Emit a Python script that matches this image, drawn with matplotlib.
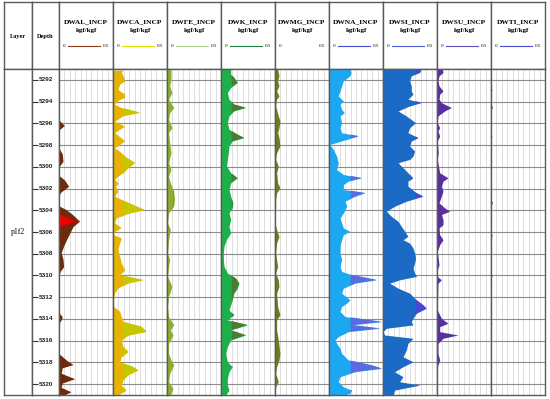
import numpy as np
import matplotlib
matplotlib.use("Agg")
import matplotlib.pyplot as plt

# curve readings: (depth, value in kgf/kgf)
DWAL = [(5291.0, 0), (5295.7, 0), (5296.2, 0.05), (5296.6, 0), (5298.3, 0), (5298.8, 0.03),
        (5299.5, 0.037), (5300.0, 0), (5300.8, 0), (5301.2, 0.05), (5301.8, 0.09), (5302.3, 0.02),
        (5302.6, 0), (5303.6, 0), (5303.9, 0.06), (5304.3, 0.115), (5305.0, 0.19), (5305.5, 0.13),
        (5306.1, 0.10), (5306.7, 0.07), (5307.3, 0.043), (5307.9, 0.02), (5308.5, 0.037),
        (5309.2, 0.043), (5309.6, 0.012), (5310.0, 0), (5313.4, 0), (5313.8, 0.03), (5314.1, 0.02),
        (5314.4, 0), (5317.2, 0), (5317.8, 0.07), (5318.2, 0.13), (5318.5, 0.03), (5319.0, 0.02),
        (5319.5, 0.145), (5319.9, 0.03), (5320.3, 0.02), (5320.7, 0.11), (5321.0, 0.05)]

DWCA = [(5291.1, 0.093), (5291.3, 0.077), (5291.6, 0.093), (5292.1, 0.108), (5292.4, 0.062),
        (5292.9, 0.046), (5293.3, 0.108), (5293.6, 0.108), (5293.9, 0.046), (5294.25, 0.015),
        (5294.55, 0.077), (5295.0, 0.247), (5295.3, 0.093), (5295.8, 0.015), (5296.25, 0.108),
        (5296.55, 0.062), (5296.85, 0.015), (5297.6, 0.108), (5297.95, 0.062), (5298.25, 0.015),
        (5298.7, 0.077), (5299.15, 0.123), (5299.6, 0.201), (5300.1, 0.139), (5300.55, 0.093),
        (5300.85, 0.046), (5301.15, 0.015), (5301.5, 0.046), (5301.8, 0.025), (5302.25, 0.046),
        (5302.7, 0.015), (5303.0, 0.077), (5303.5, 0.185), (5303.95, 0.293), (5304.25, 0.154),
        (5304.7, 0.031), (5305.15, 0.015), (5305.6, 0.077), (5305.95, 0.015), (5306.25, 0.006),
        (5306.55, 0.077), (5307.0, 0.062), (5307.6, 0.046), (5308.25, 0.062), (5308.85, 0.077),
        (5309.5, 0.108), (5309.95, 0.062), (5310.4, 0.278), (5310.7, 0.139), (5311.15, 0.046),
        (5311.6, 0.015), (5312.25, 0.006), (5312.85, 0.006), (5313.3, 0.062), (5313.8, 0.077),
        (5314.25, 0.093), (5314.7, 0.262), (5315.15, 0.309), (5315.5, 0.139), (5315.95, 0.077),
        (5316.55, 0.093), (5317.0, 0.139), (5317.5, 0.077), (5317.95, 0.062), (5318.4, 0.185),
        (5318.7, 0.231), (5319.15, 0.139), (5319.6, 0.093), (5320.1, 0.077), (5320.55, 0.123),
        (5321.0, 0.046)]

DWFE = [(5291.0, 0.037), (5291.94, 0.037), (5292.55, 0.025), (5293.17, 0.046), (5293.78, 0.015),
        (5294.55, 0.062), (5295.02, 0.025), (5295.63, 0.015), (5296.4, 0.046), (5296.86, 0.015),
        (5297.78, 0.025), (5298.71, 0.037), (5299.63, 0.015), (5300.25, 0.037), (5300.86, 0.015),
        (5301.48, 0.031), (5302.25, 0.062), (5303.02, 0.068), (5303.63, 0.062), (5304.25, 0.015),
        (5305.17, 0.006), (5305.78, 0.031), (5306.71, 0.015), (5307.94, 0.006), (5308.55, 0.025),
        (5309.17, 0.015), (5310.09, 0.006), (5311.02, 0.046), (5311.94, 0.015), (5312.86, 0.006),
        (5313.78, 0.015), (5314.55, 0.062), (5315.02, 0.031), (5315.48, 0.056), (5316.25, 0.015),
        (5317.17, 0.015), (5317.78, 0.037), (5318.25, 0.062), (5319.02, 0.025), (5319.78, 0.015),
        (5320.4, 0.056), (5321.0, 0.031)]

DWK = [(5291.0, 0.09), (5291.48, 0.09), (5291.78, 0.12), (5292.25, 0.151), (5292.71, 0.09),
       (5293.17, 0.059), (5293.78, 0.074), (5294.25, 0.12), (5294.55, 0.228), (5294.86, 0.12),
       (5295.32, 0.074), (5295.94, 0.059), (5296.55, 0.074), (5297.02, 0.151), (5297.32, 0.213),
       (5297.63, 0.105), (5298.09, 0.074), (5298.71, 0.068), (5299.32, 0.059), (5299.94, 0.052),
       (5300.55, 0.09), (5301.02, 0.151), (5301.48, 0.09), (5302.09, 0.074), (5302.71, 0.09),
       (5303.32, 0.111), (5303.78, 0.105), (5304.25, 0.074), (5304.86, 0.09), (5305.48, 0.074),
       (5306.09, 0.09), (5306.71, 0.049), (5307.32, 0.028), (5307.94, 0.022), (5308.55, 0.022),
       (5309.17, 0.028), (5309.78, 0.059), (5310.25, 0.136), (5310.71, 0.167), (5311.17, 0.151),
       (5311.63, 0.12), (5312.25, 0.105), (5312.71, 0.09), (5313.17, 0.074), (5313.63, 0.12),
       (5314.09, 0.059), (5314.55, 0.244), (5315.02, 0.09), (5315.48, 0.228), (5315.94, 0.09),
       (5316.55, 0.059), (5317.17, 0.043), (5317.94, 0.059), (5318.4, 0.105), (5318.86, 0.074),
       (5319.48, 0.059), (5320.09, 0.059), (5320.55, 0.074), (5321.0, 0.043)]

DWMG = [(5291.0, 0.025), (5291.32, 0.031), (5291.63, 0.037), (5292.09, 0.025), (5292.55, 0.037),
        (5293.02, 0.015), (5293.48, 0.037), (5293.78, 0.015), (5294.4, 0.006), (5295.32, 0.031),
        (5295.78, 0.046), (5296.4, 0.037), (5296.86, 0.025), (5297.32, 0.037), (5298.09, 0.046),
        (5298.71, 0.015), (5299.32, 0.006), (5299.94, 0.031), (5300.55, 0.015), (5301.48, 0.025),
        (5301.94, 0.046), (5302.4, 0.015), (5303.02, 0.006), (5303.63, 0.006), (5305.17, 0.0),
        (5305.78, 0.015), (5306.4, 0.037), (5307.02, 0.015), (5307.94, 0.006), (5308.55, 0.015),
        (5309.17, 0.025), (5309.78, 0.006), (5310.4, 0.031), (5311.02, 0.037), (5311.63, 0.015),
        (5312.86, 0.025), (5313.63, 0.046), (5314.09, 0.015), (5315.02, 0.015), (5315.94, 0.031),
        (5317.17, 0.046), (5317.78, 0.037), (5318.4, 0.015), (5319.02, 0.006), (5319.78, 0.031),
        (5320.25, 0.006), (5321.0, 0.0)]

DWNA = [(5291.0, 0.194), (5291.32, 0.204), (5291.63, 0.194), (5292.09, 0.133), (5292.55, 0.117),
        (5293.02, 0.102), (5293.48, 0.086), (5293.94, 0.133), (5294.25, 0.102), (5294.71, 0.117),
        (5295.02, 0.142), (5295.32, 0.102), (5295.94, 0.117), (5296.4, 0.102), (5296.86, 0.117),
        (5297.17, 0.272), (5297.48, 0.164), (5297.94, 0.009), (5298.4, 0.04), (5299.02, 0.071),
        (5299.63, 0.086), (5300.25, 0.071), (5300.71, 0.133), (5301.02, 0.302), (5301.32, 0.179),
        (5301.63, 0.133), (5302.09, 0.133), (5302.4, 0.333), (5302.71, 0.241), (5303.17, 0.148),
        (5303.63, 0.164), (5304.25, 0.133), (5304.71, 0.102), (5305.17, 0.117), (5305.63, 0.133),
        (5305.94, 0.194), (5306.25, 0.133), (5306.71, 0.117), (5307.32, 0.102), (5307.94, 0.102),
        (5308.55, 0.117), (5309.17, 0.102), (5309.63, 0.117), (5309.94, 0.21), (5310.4, 0.441),
        (5310.71, 0.241), (5311.17, 0.133), (5311.63, 0.117), (5312.25, 0.194), (5312.55, 0.164),
        (5312.86, 0.117), (5313.32, 0.102), (5313.78, 0.148), (5314.25, 0.488), (5314.55, 0.21),
        (5314.86, 0.472), (5315.17, 0.179), (5315.63, 0.086), (5315.94, 0.056), (5316.25, 0.071),
        (5316.71, 0.102), (5317.17, 0.117), (5317.78, 0.179), (5318.25, 0.395), (5318.55, 0.488),
        (5318.86, 0.241), (5319.32, 0.102), (5319.78, 0.086), (5320.25, 0.133), (5320.55, 0.21),
        (5320.86, 0.194), (5321.0, 0.133)]

DWSI = [(5291.0, 0.355), (5291.32, 0.34), (5291.63, 0.262), (5292.09, 0.247), (5292.55, 0.262),
        (5293.02, 0.262), (5293.32, 0.278), (5293.78, 0.231), (5294.09, 0.355), (5294.4, 0.247),
        (5294.86, 0.139), (5295.32, 0.216), (5295.94, 0.302), (5296.4, 0.247), (5296.86, 0.231),
        (5297.32, 0.324), (5297.63, 0.262), (5298.09, 0.247), (5298.55, 0.293), (5299.02, 0.278),
        (5299.32, 0.247), (5299.63, 0.139), (5300.09, 0.185), (5300.55, 0.231), (5301.02, 0.278),
        (5301.32, 0.231), (5301.78, 0.231), (5302.4, 0.309), (5302.71, 0.37), (5303.17, 0.216),
        (5303.63, 0.108), (5304.09, 0.031), (5304.55, 0.077), (5305.02, 0.139), (5305.48, 0.17),
        (5305.94, 0.201), (5306.4, 0.231), (5306.71, 0.185), (5307.02, 0.247), (5307.48, 0.278),
        (5307.94, 0.293), (5308.4, 0.302), (5308.86, 0.293), (5309.32, 0.278), (5309.78, 0.293),
        (5310.09, 0.309), (5310.4, 0.154), (5310.71, 0.062), (5311.17, 0.139), (5311.63, 0.247),
        (5312.25, 0.309), (5312.71, 0.37), (5313.02, 0.401), (5313.48, 0.309), (5313.94, 0.278),
        (5314.25, 0.262), (5314.55, 0.278), (5314.86, 0.031), (5315.17, 0.0), (5315.48, 0.015),
        (5315.78, 0.278), (5316.25, 0.231), (5316.86, 0.216), (5317.48, 0.185), (5317.94, 0.278),
        (5318.4, 0.185), (5318.86, 0.108), (5319.32, 0.185), (5319.78, 0.154), (5320.09, 0.34),
        (5320.55, 0.108), (5321.0, 0.093)]

DWSU = [(5291.0, 0.05), (5291.32, 0.056), (5291.63, 0.019), (5292.09, 0.009), (5292.55, 0.019),
        (5293.02, 0.056), (5293.32, 0.025), (5293.78, 0.019), (5294.09, 0.04), (5294.55, 0.133),
        (5294.86, 0.071), (5295.32, 0.009), (5295.94, 0.003), (5296.4, 0.025), (5296.71, 0.009),
        (5297.17, 0.025), (5297.63, 0.003), (5298.71, 0.012), (5299.32, 0.003), (5300.55, 0.025),
        (5301.02, 0.102), (5301.32, 0.056), (5301.78, 0.04), (5302.25, 0.056), (5302.71, 0.04),
        (5303.32, 0.019), (5303.78, 0.071), (5304.09, 0.117), (5304.4, 0.04), (5304.86, 0.056),
        (5305.32, 0.056), (5305.63, 0.019), (5306.25, 0.025), (5306.71, 0.056), (5307.17, 0.025),
        (5307.78, 0.003), (5309.02, 0.019), (5309.48, 0.003), (5310.09, 0.003), (5310.4, 0.04),
        (5310.71, 0.009), (5313.17, 0.003), (5313.94, 0.04), (5314.4, 0.102), (5314.71, 0.025),
        (5315.17, 0.025), (5315.48, 0.194), (5315.78, 0.056), (5316.25, 0.009), (5317.17, 0.009),
        (5317.78, 0.025), (5318.4, 0.003), (5321.0, 0.003)]

DWTI = [(5291.0, 0), (5292.6, 0), (5292.9, 0.008), (5293.2, 0), (5294.2, 0), (5294.5, 0.012),
        (5294.8, 0), (5297.0, 0), (5297.2, 0.008), (5297.4, 0), (5298.1, 0), (5298.4, 0.006),
        (5298.7, 0), (5303.0, 0), (5303.3, 0.012), (5303.6, 0), (5304.7, 0), (5304.9, 0.006),
        (5305.1, 0), (5306.0, 0), (5306.3, 0.01), (5306.6, 0), (5309.8, 0), (5310.0, 0.01),
        (5310.2, 0), (5310.7, 0), (5310.9, 0.006), (5311.1, 0), (5312.7, 0), (5312.9, 0.006),
        (5313.1, 0), (5314.2, 0), (5314.4, 0.008), (5314.6, 0), (5315.1, 0), (5315.3, 0.006),
        (5315.5, 0), (5318.2, 0), (5318.4, 0.006), (5318.6, 0), (5321.0, 0)]

track_names = ["DWAL_INCP", "DWCA_INCP", "DWFE_INCP", "DWK_INCP", "DWMG_INCP",
               "DWNA_INCP", "DWSI_INCP", "DWSU_INCP", "DWTI_INCP"]
track_data = [DWAL, DWCA, DWFE, DWK, DWMG, DWNA, DWSI, DWSU, DWTI]
unit = "kgf/kgf"
scale_min, scale_max = 0, 0.5
depth_top, depth_bot = 5291, 5321
depth_labels = list(range(5292, 5321, 2))
layer_name = "p1f2"
layer_depth = 5306

# fill colours: base, colour beyond the threshold, threshold
fills = [("#6e2a0c", "#b01205", 0.16),
         ("#e6b400", "#c4c800", 0.10),
         ("#8bb02e", "#9a8c2e", 0.055),
         ("#1bb04a", "#4d7b33", 0.10),
         ("#6b7d1d", None, None),
         ("#1ba8f0", "#5b6ae0", 0.20),
         ("#1b6ac6", "#4a48d0", 0.30),
         ("#5b2ea2", None, None),
         ("#1c1c8c", None, None)]
header_line = ["#8b3a1a", "#e0e000", "#a8d890", "#208040", "#ffffff",
               "#4a4ad0", "#4a5ad0", "#5a50c0", "#4a4ad0"]

W, H = 550, 399
edges = [4, 32, 59, 113, 167, 221, 275, 329, 383, 437, 491, 545]
y_hdr_top, y_hdr_bot, y_bot = 2, 69, 395
border = "#5a5a5a"
serif = "Liberation Serif"

fig = plt.figure(figsize=(W / 100, H / 100), dpi=100)


def add(x0, x1, ya, yb):
    return fig.add_axes([x0 / W, 1 - yb / H, (x1 - x0) / W, (yb - ya) / H])


def frame(ax):
    ax.set_xticks([])
    ax.set_yticks([])
    for s in ax.spines.values():
        s.set_color(border)
        s.set_linewidth(1.0)


# Layer and Depth columns
for i, label in enumerate(["Layer", "Depth"]):
    hx = add(edges[i], edges[i + 1], y_hdr_top, y_hdr_bot)
    frame(hx)
    hx.text(0.5, 0.48, label, ha="center", va="center", fontsize=4.6,
            fontweight="bold", family=serif, transform=hx.transAxes)

lay = add(edges[0], edges[1], y_hdr_bot, y_bot)
frame(lay)
lay.set_xlim(0, 1)
lay.set_ylim(depth_bot, depth_top)
lay.text(0.5, layer_depth, layer_name, ha="center", va="center", fontsize=5.5, family=serif)

dep = add(edges[1], edges[2], y_hdr_bot, y_bot)
frame(dep)
dep.set_xlim(0, 1)
dep.set_ylim(depth_bot, depth_top)
dep.hlines(depth_labels, 0, 0.24, color="#333333", lw=0.8)
for d in depth_labels:
    dep.text(0.26, d, str(d), ha="left", va="center", fontsize=4.6,
             fontweight="bold", family="Liberation Sans", color="#222222")

# curve tracks
for i, (name, data) in enumerate(zip(track_names, track_data)):
    x0, x1 = edges[i + 2], edges[i + 3]
    hx = add(x0, x1, y_hdr_top, y_hdr_bot)
    frame(hx)
    hx.set_xlim(0, 1)
    hx.set_ylim(0, 1)
    hx.text(0.5, 0.71, name, ha="center", va="center", fontsize=5.3,
            fontweight="bold", family=serif)
    hx.text(0.5, 0.58, unit, ha="center", va="center", fontsize=5.0,
            fontweight="bold", family=serif)
    hx.text(0.09, 0.345, "0", ha="center", va="center", fontsize=3.6, family=serif)
    hx.text(0.86, 0.345, "0.5", ha="center", va="center", fontsize=3.6, family=serif)
    hx.plot([0.17, 0.76], [0.345, 0.345], color=header_line[i], lw=0.8)

    ax = add(x0, x1, y_hdr_bot, y_bot)
    d = np.array([p[0] for p in data])
    v = np.array([p[1] for p in data])
    ax.set_xlim(scale_min, scale_max)
    ax.set_ylim(depth_bot, depth_top)
    ax.set_xticks(np.linspace(scale_min, scale_max, 11))
    ax.set_yticks(depth_labels)
    ax.tick_params(length=0, labelbottom=False, labelleft=False)
    ax.grid(axis="x", color="#d9d9d9", lw=0.6)
    ax.grid(axis="y", color="#8c8c8c", lw=0.8)
    ax.set_axisbelow(True)
    for s in ax.spines.values():
        s.set_color(border)
        s.set_linewidth(1.0)

    base, peak, thr = fills[i]
    ax.fill_betweenx(d, 0, v, color=base, lw=0)
    if i == 0:
        # red core of the strongest DWAL peak
        ax.fill_betweenx(d, 0, v, where=v > thr, interpolate=True, color=peak, lw=0)
        ax.fill_betweenx(d, 0, v * 0.7, where=v > 0.17, interpolate=True, color="#f00000", lw=0)
    elif peak is not None:
        ax.fill_betweenx(d, thr, v, where=v > thr, interpolate=True, color=peak, lw=0)

fig.savefig("out.png", dpi=100)
